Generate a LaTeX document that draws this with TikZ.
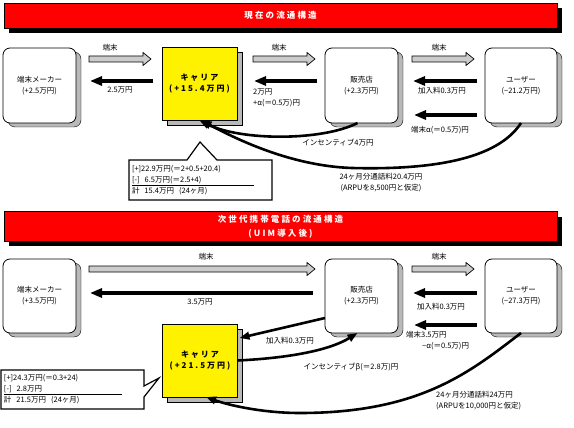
\documentclass[tikz,border=0pt]{standalone}
\usepackage{fontspec}
\setmainfont{Noto Sans CJK JP}
\newfontfamily\bannerfont{Noto Sans CJK JP}[LetterSpace=25]
\usetikzlibrary{arrows.meta,positioning,calc,shadows}

\begin{document}
\begin{tikzpicture}[x=1pt,y=-1pt,>=Latex,
  font=\fontsize{7.5}{11}\selectfont,
  party/.style={draw,line width=0.8pt,fill=white,rounded corners=7pt,
    minimum width=73pt,minimum height=75pt,align=center,outer sep=0pt,
    drop shadow={shadow xshift=5pt,shadow yshift=-4pt,fill=gray!55,draw=black,thin,opacity=1}},
  carrierbox/.style={draw,line width=0.8pt,fill=yellow,minimum width=75pt,
    minimum height=73pt,align=center,outer sep=0pt,
    font=\bannerfont\fontsize{8}{11}\selectfont\bfseries,
    drop shadow={shadow xshift=5pt,shadow yshift=-5pt,fill=gray!55,draw=black,thin,opacity=1}},
  banner/.style={draw,line width=0.8pt,fill=red,minimum width=553pt,text=white,
    align=center,outer sep=0pt,font=\bannerfont\fontsize{8.5}{14}\selectfont\bfseries,
    drop shadow={shadow xshift=5pt,shadow yshift=-5pt,fill=black,opacity=1}},
  memo/.style={align=left,inner sep=3pt,outer sep=0pt,text width=137pt},
  memoline/.style={line width=1.2pt},
  payarrow/.style={line width=3.5pt,-{Triangle[length=12pt,width=9pt]}},
  flowarrow/.style={line width=2.6pt,-{Triangle[length=10pt,width=7.5pt]}},
  termarrow/.style={draw,line width=0.7pt,fill=gray!40}
]
\useasboundingbox (0,0) rectangle (574,428);

% --- current structure ---
\node[banner,minimum height=25pt] (ban1) at (280.5,15.5) {現在の流通構造};

\node[party] (maker1) at (39.5,85.5) {端末メーカー\\(+2.5万円)};
\node[carrierbox] (carrier1) at (199.5,84) {キャリア\\(+15.4万円)};
\node[party] (shop1) at (361.5,85.5) {販売店\\(+2.3万円)};
\node[party,minimum width=72pt] (user1) at (521,85.5) {ユーザー\\(−21.2万円)};

\coordinate (g1a) at (89,59);  \coordinate (g1b) at (151,59);
\coordinate (g2a) at (253,59); \coordinate (g2b) at (315,59);
\coordinate (g3a) at (412,59); \coordinate (g3b) at (474,59);
\coordinate (k1a) at (153,81); \coordinate (k1b) at (90,81);
\coordinate (k2a) at (317,81); \coordinate (k2b) at (254,81);
\coordinate (k3a) at (477,81); \coordinate (k3b) at (413,81);
\coordinate (k4a) at (477,115); \coordinate (k4b) at (414,115);

\node (lab1) at (110,48) {端末};
\node (lab2) at (120,90) {2.5万円};
\node (lab3) at (279,48) {端末};
\node[anchor=north west,align=left,inner sep=0pt] (lab4) at (253,89) {2万円\\+α(＝0.5万)円};
\node (lab5) at (439,48) {端末};
\node (lab6) at (442,91) {加入料0.3万円};
\node (lab7) at (440,130) {端末α(＝0.5万)円};
\node (lab8) at (338,143) {インセンティブ4万円};
\node[align=center] (lab9) at (381,182.5) {24ヶ月分通話料20.4万円\\(ARPUを8,500円と仮定)};

\draw[flowarrow] ([xshift=-4pt]shop1.south) .. controls (322,141) and (242,141) .. (carrier1.south);
\draw[flowarrow] (user1.south) .. controls (497,160) and (430,170) .. (352,168)
  .. controls (292,166) and (238,140) .. ([xshift=2pt]carrier1.south);

\node[memo,minimum width=143pt,minimum height=40pt] (memo1) at (200.5,180) {[+]22.9万円(＝2+0.5+20.4)\\
  \underline{\makebox[122pt][l]{[-]\ \ 6.5万円(＝2.5+4)}}\\
  計\ \ 15.4万円\ \ (24ヶ月)};
\coordinate (pin1) at (200,142);
\draw[memoline] (memo1.north west) -- ($(memo1.north)+(-13.5,0)$) -- (pin1)
  -- ($(memo1.north)+(16.5,0)$) -- (memo1.north east) -- (memo1.south east)
  -- (memo1.south west) -- cycle;

% --- after UIM ---
\node[banner,minimum height=27pt] (ban2) at (280.5,226.5) {次世代携帯電話の流通構造\\(UIM導入後)};

\node[party,minimum height=74pt] (maker2) at (39.5,296) {端末メーカー\\(+3.5万円)};
\node[party,minimum height=74pt] (shop2) at (361.5,296) {販売店\\(+2.3万円)};
\node[party,minimum width=72pt,minimum height=74pt] (user2) at (521,296) {ユーザー\\(−27.3万円)};
\node[carrierbox] (carrier2) at (200,360.5) {キャリア\\(+21.5万円)};

\coordinate (g4a) at (89,269);  \coordinate (g4b) at (315,269);
\coordinate (g5a) at (412,269); \coordinate (g5b) at (474,269);
\coordinate (k5a) at (313,293); \coordinate (k5b) at (90,293);
\coordinate (k6a) at (477,293); \coordinate (k6b) at (413,293);
\coordinate (k7a) at (477,325); \coordinate (k7b) at (414,325);

\node (lab10) at (206,257) {端末};
\node (lab11) at (200,302) {3.5万円};
\node (lab12) at (439,257) {端末};
\node (lab13) at (441,307) {加入料0.3万円};
\node[anchor=north west,align=left,inner sep=0pt] (lab14) at (406,331) {端末3.5万円\\\hspace*{16pt}−α(＝0.5万)円};
\node (lab15) at (290,341) {加入料0.3万円};
\node (lab16) at (351,367) {インセンティブβ(＝2.8万)円};
\node[anchor=north west,align=left,inner sep=0pt] (lab17) at (436,391) {24ヶ月分通話料24万円\\(ARPUを10,000円と仮定)};

\draw[flowarrow] ($(shop2.south west)+(0,-15)$) -- ($(carrier2.north east)+(2,14)$);
\draw[flowarrow] (carrier2.east) .. controls (290,358) and (330,350) .. ([xshift=-4pt]shop2.south);
\draw[flowarrow] (user2.south) .. controls (470,372) and (420,413) .. (300,413)
  .. controls (262,413) and (228,405) .. ([xshift=6pt]carrier2.south);

\node[memo,minimum width=141pt,minimum height=39pt] (memo2) at (72.5,389.5) {[+]24.3万円(＝0.3+24)\\
  \underline{\makebox[118pt][l]{[-]\ \ 2.8万円}}\\
  計\ \ 21.5万円\ \ (24ヶ月)};
\coordinate (pin2) at (159,378);
\draw[memoline] (memo2.north west) -- (memo2.north east) -- ($(memo2.north east)+(0,16)$)
  -- (pin2) -- ($(memo2.north east)+(0,27)$) -- (memo2.south east)
  -- (memo2.south west) -- cycle;

% block arrows
\foreach \s/\e in {g1a/g1b,g2a/g2b,g3a/g3b,g4a/g4b,g5a/g5b}
  \draw[termarrow] let \p1=(\s), \p2=(\e) in
    (\x1,\y1+3pt) -- (\x2-8pt,\y1+3pt) -- (\x2-8pt,\y1+6.5pt) -- (\x2,\y1)
    -- (\x2-8pt,\y1-6.5pt) -- (\x2-8pt,\y1-3pt) -- (\x1,\y1-3pt) -- cycle;
\foreach \s/\e in {k1a/k1b,k2a/k2b,k3a/k3b,k4a/k4b,k5a/k5b,k6a/k6b,k7a/k7b}
  \draw[payarrow] (\s) -- (\e);
\end{tikzpicture}
\end{document}
